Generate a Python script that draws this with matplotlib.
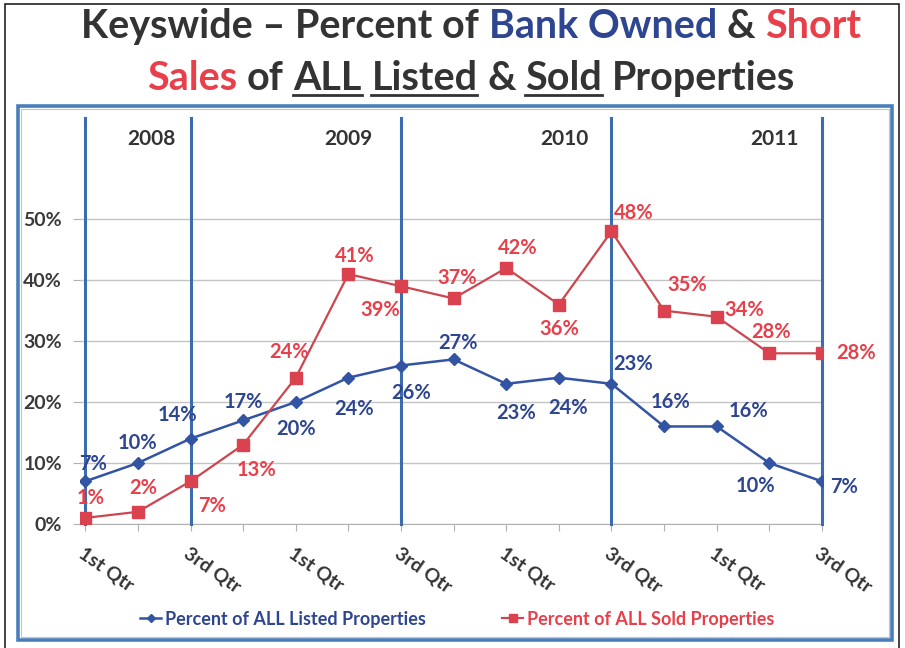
import matplotlib
matplotlib.use('Agg')
import matplotlib.pyplot as plt
from matplotlib.lines import Line2D
from matplotlib.patches import Rectangle

plt.rcParams['font.family'] = ['Lato', 'DejaVu Sans']
plt.rcParams['font.weight'] = 'bold'

# data
quarters = ['1st Qtr', '2nd Qtr', '3rd Qtr', '4th Qtr',
            '1st Qtr', '2nd Qtr', '3rd Qtr', '4th Qtr',
            '1st Qtr', '2nd Qtr', '3rd Qtr', '4th Qtr',
            '1st Qtr', '2nd Qtr', '3rd Qtr']
listed = [7, 10, 14, 17, 20, 24, 26, 27, 23, 24, 23, 16, 16, 10, 7]
sold = [1, 2, 7, 13, 24, 41, 39, 37, 42, 36, 48, 35, 34, 28, 28]
years = ['2008', '2009', '2010', '2011']
year_lines = [0, 2, 6, 10, 14]
year_label_x = [1.25, 5.0, 9.1, 13.1]

# label offsets in pixels (dx, dy)
listed_off = [(8, 17), (0, 20), (-13, 24), (0, 18), (0, -27), (6, -31), (10, -27),
              (4, 16), (10, -29), (9, -30), (22, 20), (6, 24), (32, 15), (-14, -23), (22, -6)]
sold_off = [(5, 20), (5, 24), (22, -25), (13, -25), (-7, 26), (6, 18), (-21, -24),
            (4, 20), (12, 20), (0, -24), (22, 18), (23, 26), (28, 7), (2, 21), (34, 0)]

W, H = 905, 648
BLUE = '#2E4690'
BLUE_LINE = '#3353A3'
RED = '#E8404B'
RED_LINE = '#CC4650'
DARK = '#333333'
YEAR_BLUE = '#3B6DAE'

fig = plt.figure(figsize=(W / 100, H / 100), dpi=100)

# outer frames
fig.add_artist(Rectangle((5 / W, -0.01), 894 / W, (H - 4) / H + 0.01,
                         transform=fig.transFigure, fill=False, ec='#222222', lw=1.2))
fig.add_artist(Rectangle((18 / W, 8 / H), 874 / W, 534 / H,
                         transform=fig.transFigure, fill=False, ec='#4A7EBB', lw=2.6))
fig.add_artist(Rectangle((21 / W, 11 / H), 868 / W, 528 / H,
                         transform=fig.transFigure, fill=False, ec='#A9C8EA', lw=0.8))

ax = fig.add_axes([80 / W, 124 / H, 743 / W, 406 / H])
x = list(range(len(quarters)))
ax.set_xlim(-0.1, 14.02)
ax.set_ylim(0, 0.666)

ax.set_yticks([0, 0.1, 0.2, 0.3, 0.4, 0.5])
ax.set_yticklabels(['0%', '10%', '20%', '30%', '40%', '50%'])
ax.yaxis.grid(True, color='#C4C4C4', lw=1)
ax.set_axisbelow(True)
ax.set_xticks(x)
ax.set_xticklabels([q if i % 2 == 0 else '' for i, q in enumerate(quarters)],
                   rotation=-35, ha='left', va='top', rotation_mode='anchor')
ax.tick_params(axis='x', length=5, color='#B0B0B0', labelsize=14,
               labelcolor=DARK, pad=10)
ax.tick_params(axis='y', length=5, color='#B0B0B0', labelsize=14,
               labelcolor='#3A3A3A', pad=8)
for s in ['top', 'right', 'left']:
    ax.spines[s].set_visible(False)
ax.spines['bottom'].set_color('#B0B0B0')

for xv in year_lines:
    ax.axvline(xv, color=YEAR_BLUE, lw=2.2, clip_on=False, zorder=4)
for yr, xv in zip(years, year_label_x):
    ax.text(xv, 0.632, yr, ha='center', va='center', fontsize=15,
            fontweight='bold', color='#333333')

listed_v = [v / 100 for v in listed]
sold_v = [v / 100 for v in sold]
ax.plot(x, listed_v, color=BLUE_LINE, lw=1.8, marker='D', ms=6,
        label='Percent of ALL Listed Properties', zorder=5)
ax.plot(x, sold_v, color=RED_LINE, lw=1.6, marker='s', ms=8, mfc='#D9424E',
        mec='#D9424E', label='Percent of ALL Sold Properties', zorder=5)

for xi, v, n, (dx, dy) in zip(x, listed_v, listed, listed_off):
    ax.annotate(f'{n}%', (xi, v), xytext=(dx, dy), textcoords='offset pixels',
                ha='center', va='center', fontsize=14.5, fontweight='bold',
                color=BLUE, zorder=6)
for xi, v, n, (dx, dy) in zip(x, sold_v, sold, sold_off):
    ax.annotate(f'{n}%', (xi, v), xytext=(dx, dy), textcoords='offset pixels',
                ha='center', va='center', fontsize=14.5, fontweight='bold',
                color=RED, zorder=6)

handles, labels = ax.get_legend_handles_labels()
fig.legend(handles, labels, loc='center', bbox_to_anchor=(457 / W, 1 - 619 / H),
           ncol=2, frameon=False, fontsize=13, handlelength=1.2,
           handletextpad=0.2, columnspacing=4.2, labelcolor=[BLUE, RED],
           markerscale=0.7)

# title with coloured / underlined words
renderer = fig.canvas.get_renderer()


def text_w(s, size):
    t = fig.text(0, 0, s, fontsize=size, fontweight='bold')
    w = t.get_window_extent(renderer).width
    t.remove()
    return w


def rich_line(parts, y_px, size, center_px=471):
    sp = text_w('a a', size) - text_w('aa', size)
    widths = [text_w(s, size) for s, c, u in parts]
    total = sum(widths) + sp * (len(parts) - 1)
    xp = center_px - total / 2
    yb = 1 - y_px / H
    for (s, c, u), w in zip(parts, widths):
        fig.text(xp / W, yb, s, color=c, fontsize=size, fontweight='bold',
                 va='baseline', ha='left')
        if u:
            yu = 1 - (y_px + 5) / H
            fig.add_artist(Line2D([xp / W, (xp + w) / W], [yu, yu],
                                  transform=fig.transFigure, color=DARK, lw=2))
        xp += w + sp


line1 = [('Keyswide – Percent of', DARK, False), ('Bank Owned', BLUE, False),
         ('&', DARK, False), ('Short', RED, False)]
line2 = [('Sales', RED, False), ('of', DARK, False), ('ALL', DARK, True),
         ('Listed', DARK, True), ('&', DARK, False), ('Sold', DARK, True),
         ('Properties', DARK, False)]

base = 26
tw = sum(text_w(s, base) for s, c, u in line1) + 3 * (text_w('a a', base) - text_w('aa', base))
tsize = base * 780 / tw
rich_line(line1, 38, tsize)
rich_line(line2, 90, tsize)

fig.savefig('out.png', dpi=100)
